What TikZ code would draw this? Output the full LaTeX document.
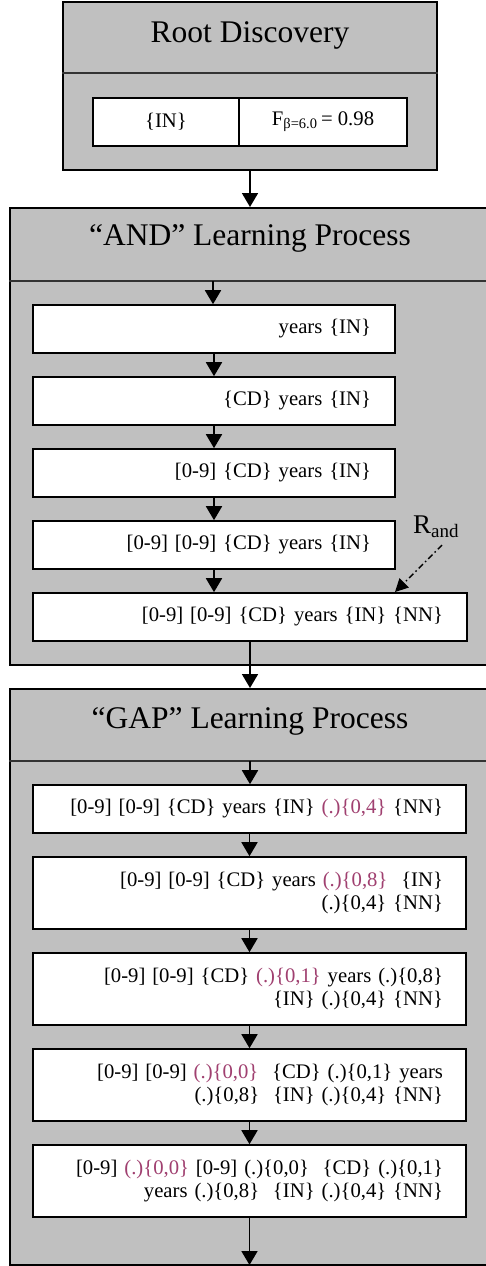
\documentclass[tikz,border=0pt]{standalone}
\usepackage{fontspec}
\setmainfont{Liberation Serif}
\usetikzlibrary{arrows.meta}
\definecolor{boxgray}{RGB}{192,192,192}
\definecolor{hl}{RGB}{160,64,112}
\newcommand{\hlt}[1]{{\color{hl}#1}}
\begin{document}
\begin{tikzpicture}[x=1pt,y=-1pt,
  outerbox/.style={draw=black, line width=2pt, fill=boxgray, inner sep=0pt},
  sepline/.style={draw=black!80, line width=1.3pt},
  titletext/.style={font=\fontsize{31.5}{34}\selectfont, anchor=base, inner sep=0pt},
  cell/.style={draw=black, line width=1.6pt, fill=white, inner sep=0pt, font=\fontsize{20.7}{23}\selectfont},
  stepbox/.style={draw=black, line width=1.6pt, fill=white, inner xsep=0pt, inner ysep=0pt,
     minimum height=#1, align=right, font=\fontsize{20.7}{23}\selectfont},
  arr/.style={-{Triangle[width=16pt,length=14pt]}, line width=1.8pt},
  dasharr/.style={-{Triangle[width=13pt,length=13pt]}, line width=1.4pt,
     dash pattern=on 6pt off 3pt on 1.5pt off 3pt}
]
\useasboundingbox (0,0) rectangle (486,1266);
\clip (0,0) rectangle (486,1266);

% ---------- Root Discovery ----------
\node[outerbox, minimum width=374pt, minimum height=168pt] (root) at (250,86) {};
\node[titletext] (roottitle) at (250,42.5) {Root Discovery};
\draw[sepline] (root.west |- 0,73) -- (root.east |- 0,73);
\node[cell, minimum width=146pt, minimum height=48pt] (rin) at (166,122) {\{IN\}};
\node[cell, minimum width=168pt, minimum height=48pt] (rf) at (323,122) {F\textsubscript{β=6.0}\,= 0.98};

% ---------- AND ----------
\node[outerbox, minimum width=480pt, minimum height=457pt] (and) at (250,436.5) {};
\node[titletext] (andtitle) at (250,245) {“AND” Learning Process};
\draw[sepline] (and.west |- 0,281) -- (and.east |- 0,281);
\coordinate (andsep) at (213,281);

% ---------- GAP ----------
\node[outerbox, minimum width=480pt, minimum height=576pt] (gap) at (250,977) {};
\node[titletext] (gaptitle) at (250,728) {“GAP” Learning Process};
\draw[sepline] (gap.west |- 0,761) -- (gap.east |- 0,761);
\coordinate (gapsep) at (250,761);
\coordinate (gapend) at (250,1265);

% arrows between the big boxes
\draw[arr] (root.south) -- (and.north);

% AND steps
\node[stepbox=48pt, minimum width=362pt, text width=314pt] (a1) at (214,329) {years \{IN\}};
\node[stepbox=48pt, minimum width=362pt, text width=314pt] (a2) at (214,401) {\{CD\} years \{IN\}};
\node[stepbox=48pt, minimum width=362pt, text width=314pt] (a3) at (214,473) {[0-9] \{CD\} years \{IN\}};
\node[stepbox=48pt, minimum width=362pt, text width=314pt] (a4) at (214,545) {[0-9] [0-9] \{CD\} years \{IN\}};
\node[stepbox=48pt, minimum width=434pt, text width=386pt] (a5) at (250,617) {[0-9] [0-9] \{CD\} years \{IN\} \{NN\}};

\draw[arr] (andsep) -- (andsep |- a1.north);
\draw[arr] (a1) -- (a2);
\draw[arr] (a2) -- (a3);
\draw[arr] (a3) -- (a4);
\draw[arr] (a4.south) -- (a4.south |- a5.north);
\draw[arr] (a5.south) -- (gap.north);

% R_and
\node[anchor=base west, inner sep=0pt] (rand) at (413,533)
  {{\fontsize{27}{30}\selectfont R}{\fontsize{19}{20}\selectfont\raisebox{-4pt}{and}}};
\coordinate (randtail) at (442,545);
\coordinate (randtip) at (395,592);
\draw[dasharr] (randtail) -- (randtip);

% GAP steps
\node[stepbox=48pt, minimum width=433pt, text width=387pt] (g1) at (249.5,809)
  {[0-9] [0-9] \{CD\} years \{IN\} \hlt{(.)\{0,4\}} \{NN\}};
\node[stepbox=72pt, minimum width=433pt, text width=387pt] (g2) at (249.5,893)
  {[0-9] [0-9] \{CD\} years \hlt{(.)\{0,8\}}\ \ \{IN\}\\ (.)\{0,4\} \{NN\}};
\node[stepbox=72pt, minimum width=433pt, text width=387pt] (g3) at (249.5,989)
  {[0-9] [0-9] \{CD\} \hlt{(.)\{0,1\}} years (.)\{0,8\}\\ \{IN\} (.)\{0,4\} \{NN\}};
\node[stepbox=72pt, minimum width=433pt, text width=387pt] (g4) at (249.5,1085)
  {[0-9] [0-9] \hlt{(.)\{0,0\}}\ \ \{CD\} (.)\{0,1\} years\\ (.)\{0,8\}\ \ \{IN\} (.)\{0,4\} \{NN\}};
\node[stepbox=72pt, minimum width=433pt, text width=387pt] (g5) at (249.5,1181)
  {[0-9] \hlt{(.)\{0,0\}} [0-9] (.)\{0,0\}\ \ \{CD\} (.)\{0,1\}\\ years (.)\{0,8\}\ \ \{IN\} (.)\{0,4\} \{NN\}};

\draw[arr] (gapsep) -- (gapsep |- g1.north);
\draw[arr] (g1) -- (g2);
\draw[arr] (g2) -- (g3);
\draw[arr] (g3) -- (g4);
\draw[arr] (g4) -- (g5);
\draw[arr] (g5.south) -- (g5.south |- gapend);
\end{tikzpicture}
\end{document}
